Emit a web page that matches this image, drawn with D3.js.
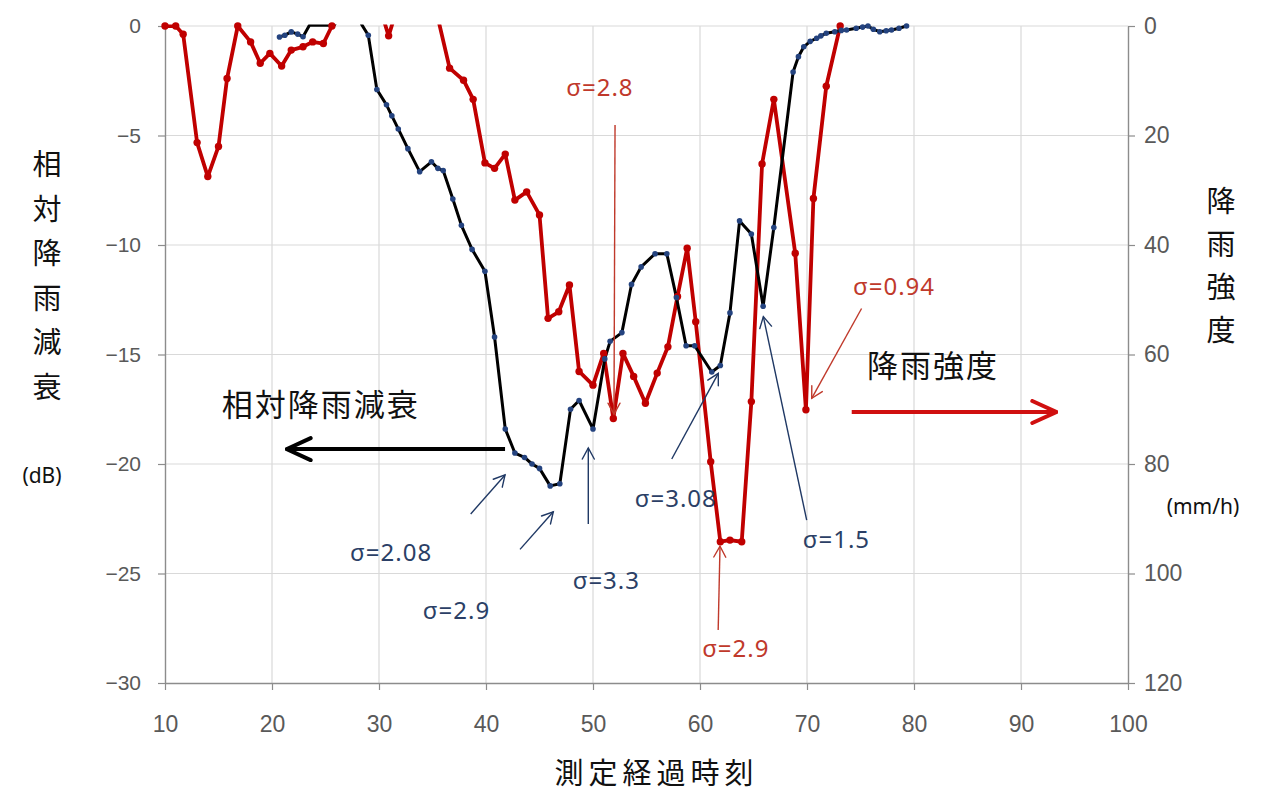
<!DOCTYPE html>
<html>
<head>
<meta charset="utf-8">
<script src="https://cdn.jsdelivr.net/npm/d3@7"></script>
<style>
  body { margin: 0; background: #fff; }
  svg { display: block; }
</style>
</head>
<body>
<svg id="chart" width="1272" height="793"></svg>
<script>
// ---- data -------------------------------------------------------------
// relative rain attenuation (dB), left axis
const attenTime = [20.7, 21.2, 21.8, 22.4, 22.9, 23.5, 24.3, 25.0, 25.8, 26.6, 27.6, 28.4, 29.0, 29.8, 30.7, 31.2, 31.8, 32.7, 33.8, 34.9, 35.5, 36.0, 36.9, 37.7, 38.7, 39.9, 40.8, 41.8, 42.7, 43.6, 44.3, 45.0, 46.0, 46.9, 47.9, 48.7, 50.0, 51.1, 51.6, 52.7, 53.6, 54.5, 55.8, 56.9, 57.8, 58.7, 59.5, 61.1, 61.9, 62.8, 63.7, 64.8, 65.9, 66.9, 68.7, 69.2, 69.7, 70.3, 70.9, 71.3, 71.8, 72.6, 73.2, 73.7, 74.6, 75.2, 75.7, 76.2, 76.8, 77.4, 77.9, 78.6, 79.3];
const attenDb  = [-0.5, -0.42, -0.27, -0.37, -0.49, 0.03, 0.03, 0.03, 0.03, 0.6, 1.0, 0.05, -0.42, -2.9, -3.6, -4.1, -4.7, -5.6, -6.65, -6.2, -6.5, -6.6, -7.9, -9.1, -10.2, -11.2, -14.2, -18.4, -19.5, -19.7, -20.0, -20.2, -21.0, -20.9, -17.5, -17.1, -18.4, -15.2, -14.4, -14.0, -11.8, -11.0, -10.4, -10.4, -12.4, -14.6, -14.6, -15.8, -15.5, -13.1, -8.9, -9.5, -12.8, -9.2, -2.1, -1.4, -0.95, -0.7, -0.56, -0.45, -0.33, -0.26, -0.2, -0.18, -0.1, -0.05, 0.0, -0.15, -0.26, -0.22, -0.18, -0.1, 0.0];

// rain intensity (mm/h), right axis (inverted)
const rainTime = [10.0, 11.0, 11.7, 13.0, 14.0, 15.0, 15.8, 16.8, 18.0, 18.9, 19.8, 20.9, 21.8, 22.9, 23.8, 24.8, 25.6, 26.6, 27.6, 28.6, 29.6, 30.3, 30.9, 31.5, 32.5, 33.5, 34.5, 35.5, 36.6, 37.9, 38.8, 39.9, 40.8, 41.8, 42.7, 43.8, 45.0, 45.8, 46.8, 47.8, 48.7, 50.0, 51.0, 51.9, 52.8, 53.8, 54.9, 56.0, 57.0, 57.9, 58.8, 59.6, 61.0, 61.9, 62.8, 63.9, 64.8, 65.8, 66.9, 68.9, 69.9, 70.6, 71.8, 73.1];
const rainMmh  = [0, 0, 1.5, 21.3, 27.5, 22, 9.6, 0, 2.9, 6.8, 5.0, 7.3, 4.4, 3.8, 2.9, 3.2, 0, -4, -6, -6, -4, -2, 1.8, -2, -6, -7, -5, -1.5, 7.7, 9.9, 13.4, 25, 26, 23.4, 31.8, 30.3, 34.5, 53.4, 52.2, 47.3, 63.1, 65.6, 59.8, 71.7, 59.8, 64, 68.9, 63.4, 58.6, 49.4, 40.6, 54, 79.6, 94.2, 93.9, 94.2, 68.6, 25.2, 13.4, 41.5, 70.1, 31.5, 11, 0];

// tick labels
const timeTicks  = [10, 20, 30, 40, 50, 60, 70, 80, 90, 100];
const attenTicks = [0, -5, -10, -15, -20, -25, -30];
const rainTicks  = [0, 20, 40, 60, 80, 100, 120];

// σ annotations: label anchor and arrow in data units
const attenNotes = [
  { text: "σ=2.08", tx: 27.3, ty: -24.45, x1: 38.57, y1: -22.28, x2: 41.78, y2: -20.5 },
  { text: "σ=2.9",  tx: 34.1, ty: -27.08, x1: 43.18, y1: -23.9,  x2: 46.29, y2: -22.18 },
  { text: "σ=3.3",  tx: 48.1, ty: -25.7,  x1: 49.56, y1: -22.74, x2: 49.56, y2: -19.27 },
  { text: "σ=3.08", tx: 53.9, ty: -21.96, x1: 57.36, y1: -19.77, x2: 61.71, y2: -15.86 },
  { text: "σ=1.5",  tx: 69.6, ty: -23.84, x1: 69.97, y1: -22.56, x2: 65.92, y2: -13.27 }
];
const rainNotes = [
  { text: "σ=2.8",  tx: 47.5, ty: 12.8,  x1: 52.06, y1: 18.1,  x2: 51.96, y2: 70.9 },
  { text: "σ=2.9",  tx: 60.2, ty: 115.2, x1: 61.7,  y1: 110.3, x2: 61.87, y2: 95.0 },
  { text: "σ=0.94", tx: 74.3, ty: 49.1,  x1: 75.1,  y1: 51.6,  x2: 70.44, y2: 68.0 }
];

// ---- layout -----------------------------------------------------------
const plot = { left: 165, right: 1128, top: 26, bottom: 683 };

const x  = d3.scaleLinear().domain([10, 100]).range([plot.left, plot.right]);
const yL = d3.scaleLinear().domain([-30, 0]).range([plot.bottom, plot.top]);
const yR = d3.scaleLinear().domain([0, 120]).range([plot.top, plot.bottom]);

const svg = d3.select("#chart");
const numFont = "'Liberation Sans', Arial, sans-serif";
const jpFont = "'Noto Sans CJK JP', 'Noto Sans', sans-serif";
const RED = "#c00000", NAVY = "#1f3864", RED_TXT = "#c0392b", NAVY_TXT = "#2b3f66";

const defs = svg.append("defs");
defs.append("clipPath").attr("id", "plotClip")
  .append("rect")
  .attr("x", plot.left).attr("y", plot.top - 1.5)
  .attr("width", plot.right - plot.left).attr("height", plot.bottom - plot.top + 1.5);

function arrowHead(id, color, len, half, width) {
  defs.append("marker")
    .attr("id", id)
    .attr("markerUnits", "userSpaceOnUse")
    .attr("viewBox", `${-len - 2} ${-half - 2} ${len + 4} ${2 * half + 4}`)
    .attr("refX", 0).attr("refY", 0)
    .attr("markerWidth", len + 4).attr("markerHeight", 2 * half + 4)
    .attr("orient", "auto")
    .append("path")
    .attr("d", `M${-len},${-half} L0,0 L${-len},${half}`)
    .attr("fill", "none").attr("stroke", color)
    .attr("stroke-width", width).attr("stroke-linecap", "round")
    .attr("stroke-linejoin", "miter");
}
arrowHead("headNavy", NAVY, 11, 6, 1.4);
arrowHead("headRed", RED_TXT, 11, 6, 1.4);
arrowHead("headBlack", "#000", 24, 11, 4);
arrowHead("headBigRed", "#d01010", 24, 11, 4);

// ---- grid -------------------------------------------------------------
const grid = svg.append("g").attr("stroke", "#d9d9d9").attr("stroke-width", 1.2);
grid.selectAll("line.v").data(timeTicks.slice(1, -1)).join("line")
  .attr("x1", d => x(d)).attr("x2", d => x(d))
  .attr("y1", plot.top).attr("y2", plot.bottom);
grid.selectAll("line.h").data(attenTicks.slice(0, -1)).join("line")
  .attr("x1", plot.left).attr("x2", plot.right)
  .attr("y1", d => yL(d)).attr("y2", d => yL(d));

// ---- axes -------------------------------------------------------------
function styleAxis(g) {
  g.selectAll(".domain").attr("stroke", "#8c8c8c").attr("stroke-width", 1.4);
  g.selectAll(".tick line").attr("stroke", "#8c8c8c").attr("stroke-width", 1.2);
  g.selectAll(".tick text").attr("fill", "#595959")
    .style("font-family", numFont).style("font-size", "21px");
}

svg.append("g")
  .attr("transform", `translate(0,${plot.bottom})`)
  .call(d3.axisBottom(x).tickValues(timeTicks).tickSize(7).tickSizeOuter(0).tickPadding(26)
    .tickFormat(d3.format("d")))
  .call(styleAxis)
  .call(g => g.selectAll(".tick text").style("font-family", "'Liberation Sans Narrow', 'Liberation Sans', sans-serif").style("font-size", "23px"));

svg.append("g")
  .attr("transform", `translate(${plot.left},0)`)
  .call(d3.axisLeft(yL).tickValues(attenTicks).tickSize(7).tickSizeOuter(0).tickPadding(17)
    .tickFormat(d3.format("d")))
  .call(styleAxis);

svg.append("g")
  .attr("transform", `translate(${plot.right},0)`)
  .call(d3.axisRight(yR).tickValues(rainTicks).tickSize(7).tickSizeOuter(0).tickPadding(9)
    .tickFormat(d3.format("d")))
  .call(styleAxis)
  .call(g => g.selectAll(".tick text").style("font-size", "23px"));

// ---- series -----------------------------------------------------------
const rain = rainTime.map((t, i) => ({ t, v: rainMmh[i] }));
const atten = attenTime.map((t, i) => ({ t, v: attenDb[i] }));

const series = svg.append("g");
const clipped = series.append("g").attr("clip-path", "url(#plotClip)");

clipped.append("path")
  .datum(rain)
  .attr("fill", "none").attr("stroke", RED)
  .attr("stroke-width", 3.8).attr("stroke-linejoin", "round")
  .attr("d", d3.line().x(d => x(d.t)).y(d => yR(d.v)));

series.append("g").selectAll("circle")
  .data(rain.filter(d => d.v >= 0 && d.v <= 120))
  .join("circle")
  .attr("cx", d => x(d.t)).attr("cy", d => yR(d.v))
  .attr("r", 3.7).attr("fill", RED);

clipped.append("path")
  .datum(atten)
  .attr("fill", "none").attr("stroke", "#000")
  .attr("stroke-width", 3).attr("stroke-linejoin", "round")
  .attr("d", d3.line().x(d => x(d.t)).y(d => yL(d.v)));

series.append("g").selectAll("circle")
  .data(atten.filter(d => d.v <= 0 && d.v >= -30))
  .join("circle")
  .attr("cx", d => x(d.t)).attr("cy", d => yL(d.v))
  .attr("r", 2.8).attr("fill", "#24437f");

// ---- σ annotations ----------------------------------------------------
const notes = svg.append("g");
notes.selectAll("line.an").data(attenNotes).join("line")
  .attr("x1", d => x(d.x1)).attr("y1", d => yL(d.y1))
  .attr("x2", d => x(d.x2)).attr("y2", d => yL(d.y2))
  .attr("stroke", NAVY).attr("stroke-width", 1.4)
  .attr("marker-end", "url(#headNavy)");
notes.selectAll("text.an").data(attenNotes).join("text")
  .attr("x", d => x(d.tx)).attr("y", d => yL(d.ty))
  .attr("fill", NAVY_TXT)
  .style("font-family", "'Noto Sans', sans-serif").style("font-size", "24px")
  .style("letter-spacing", "1px")
  .text(d => d.text);

notes.selectAll("line.rn").data(rainNotes).join("line")
  .attr("x1", d => x(d.x1)).attr("y1", d => yR(d.y1))
  .attr("x2", d => x(d.x2)).attr("y2", d => yR(d.y2))
  .attr("stroke", RED_TXT).attr("stroke-width", 1.4)
  .attr("marker-end", "url(#headRed)");
notes.selectAll("text.rn").data(rainNotes).join("text")
  .attr("x", d => x(d.tx)).attr("y", d => yR(d.ty))
  .attr("fill", RED_TXT)
  .style("font-family", "'Noto Sans', sans-serif").style("font-size", "24px")
  .style("letter-spacing", "1px")
  .text(d => d.text);

// ---- series labels with direction arrows ------------------------------
svg.append("text")
  .attr("x", x(15.3)).attr("y", yL(-17.8))
  .style("font-family", jpFont).style("font-size", "31px").style("letter-spacing", "2px")
  .attr("fill", "#111").text("相対降雨減衰");
svg.append("line")
  .attr("x1", x(41.78)).attr("y1", yL(-19.32))
  .attr("x2", x(21.37)).attr("y2", yL(-19.32))
  .attr("stroke", "#000").attr("stroke-width", 4)
  .attr("marker-end", "url(#headBlack)");

svg.append("text")
  .attr("x", x(75.6)).attr("y", yR(64.1))
  .style("font-family", jpFont).style("font-size", "31px").style("letter-spacing", "2px")
  .attr("fill", "#111").text("降雨強度");
svg.append("line")
  .attr("x1", x(74.18)).attr("y1", yR(70.5))
  .attr("x2", x(93.3)).attr("y2", yR(70.5))
  .attr("stroke", "#d01010").attr("stroke-width", 4)
  .attr("marker-end", "url(#headBigRed)");

// ---- axis titles ------------------------------------------------------
const leftTitle = svg.append("text")
  .style("font-family", jpFont).style("font-size", "29px").attr("fill", "#111")
  .attr("text-anchor", "middle");
Array.from("相対降雨減衰").forEach((ch, i) => {
  leftTitle.append("tspan").attr("x", 47).attr("y", 175 + i * 44.5).text(ch);
});
svg.append("text").attr("x", 42).attr("y", 483)
  .attr("text-anchor", "middle").attr("fill", "#111")
  .style("font-family", "'Noto Sans', sans-serif").style("font-size", "21px")
  .text("(dB)");

const rightTitle = svg.append("text")
  .style("font-family", jpFont).style("font-size", "29px").attr("fill", "#111")
  .attr("text-anchor", "middle");
Array.from("降雨強度").forEach((ch, i) => {
  rightTitle.append("tspan").attr("x", 1221).attr("y", 212 + i * 43).text(ch);
});
svg.append("text").attr("x", 1203).attr("y", 514)
  .attr("text-anchor", "middle").attr("fill", "#111")
  .style("font-family", "'Noto Sans', sans-serif").style("font-size", "21px")
  .text("(mm/h)");

svg.append("text").attr("x", (plot.left + plot.right) / 2 + 10).attr("y", 784)
  .attr("text-anchor", "middle").attr("fill", "#111")
  .style("font-family", jpFont).style("font-size", "29px").style("letter-spacing", "5px")
  .text("測定経過時刻");
</script>
</body>
</html>
